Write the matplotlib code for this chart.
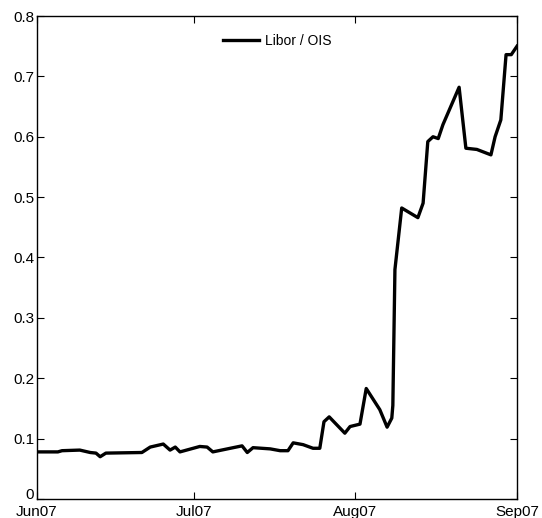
import matplotlib
matplotlib.use("Agg")
import matplotlib.pyplot as plt
import matplotlib.transforms as mtransforms

# Libor / OIS spread, Jun 2007 - Sep 2007
# x = days since 1 Jun 2007, y = spread (percentage points)
days = [0.0, 4.0, 4.8, 8.2, 10.2, 11.3, 12.1, 13.2, 20.1, 21.7, 24.2, 25.5,
        26.5, 27.4, 31.2, 32.6, 33.7, 37.6, 39.3, 40.3, 41.4, 44.7, 46.6,
        48.1, 49.1, 51.0, 52.9, 54.2, 55.0, 56.0, 59.0, 60.0, 61.9, 63.1,
        65.7, 67.1, 68.0, 68.2, 68.6, 69.9, 73.0, 74.0, 74.9, 75.9, 76.9,
        77.8, 80.9, 82.2, 84.3, 87.0, 87.8, 88.9, 89.9, 90.9, 92.0]
spread = [0.078, 0.078, 0.080, 0.081, 0.077, 0.076, 0.070, 0.076, 0.077,
          0.086, 0.091, 0.081, 0.086, 0.078, 0.087, 0.086, 0.078, 0.085,
          0.088, 0.077, 0.085, 0.083, 0.080, 0.080, 0.093, 0.090, 0.084,
          0.084, 0.128, 0.136, 0.109, 0.120, 0.124, 0.183, 0.148, 0.119,
          0.134, 0.155, 0.380, 0.482, 0.466, 0.490, 0.592, 0.600, 0.597,
          0.620, 0.682, 0.581, 0.579, 0.570, 0.600, 0.628, 0.736, 0.736,
          0.750]

tick_days = [0, 30, 61, 92]
tick_labels = ["Jun07", "Jul07", "Aug07", "Sep07"]
y_ticks = [0, 0.1, 0.2, 0.3, 0.4, 0.5, 0.6, 0.7, 0.8]
y_labels = ["0", "0.1", "0.2", "0.3", "0.4", "0.5", "0.6", "0.7", "0.8"]

plt.rcParams["font.family"] = ["Liberation Sans", "DejaVu Sans"]

fig = plt.figure(figsize=(5.42, 5.18), dpi=100)
ax = fig.add_axes([0.0683, 0.0367, 0.8856, 0.9324])

ax.plot(days, spread, color="black", linewidth=2.4, label="Libor / OIS",
        solid_joinstyle="round")

ax.set_xlim(0, 92)
ax.set_ylim(0, 0.8)
ax.set_xticks(tick_days)
ax.set_xticklabels(tick_labels)
ax.set_yticks(y_ticks)
ax.set_yticklabels(y_labels)

ax.tick_params(direction="in", top=True, right=True, length=5, width=0.8,
               labelsize=11, pad=2)
ax.tick_params(axis="x", pad=4)
for s in ax.spines.values():
    s.set_linewidth(1.0)

# nudge the "0" label up so it clears the first date label
zero_lbl = ax.get_yticklabels()[0]
zero_lbl.set_transform(zero_lbl.get_transform() +
                       mtransforms.ScaledTranslation(0, 4 / 72, fig.dpi_scale_trans))

leg = ax.legend(loc="upper center", frameon=False, fontsize=10,
                handlelength=2.6, handletextpad=0.4, borderaxespad=0.9)

plt.savefig("out.png", dpi=100)
plt.close()
